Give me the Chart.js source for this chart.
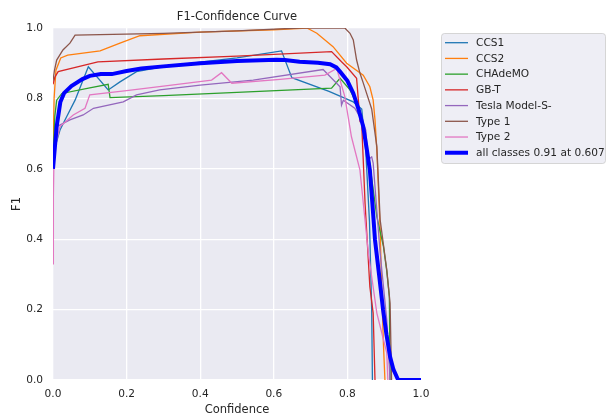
<!DOCTYPE html>
<html>
<head>
<meta charset="utf-8">
<script src="https://cdn.jsdelivr.net/npm/chart.js@4.4.1/dist/chart.umd.min.js"></script>
<style>
  html, body { margin: 0; padding: 0; background: #ffffff; }
  #wrap { width: 607px; height: 417px; }
</style>
</head>
<body>
<div id="wrap"><canvas id="c" width="607" height="417"></canvas></div>
<script>
// ---- data ----
const seriesNames = ['CCS1', 'CCS2', 'CHAdeMO', 'GB-T', 'Tesla Model-S-', 'Type 1', 'Type 2'];
const allLabel = 'all classes 0.91 at 0.607';
const titleText = 'F1-Confidence Curve';
const xLabel = 'Confidence';
const yLabel = 'F1';
const tickValues = [0, 0.2, 0.4, 0.6, 0.8, 1.0];

const ccs1X = [0, 0.005, 0.019, 0.037, 0.06, 0.096, 0.15, 0.182, 0.227, 0.3, 0.4, 0.5, 0.621, 0.649, 0.75, 0.816, 0.839, 0.85, 0.86, 0.866, 0.868];
const ccs1Y = [0.60, 0.66, 0.71, 0.748, 0.795, 0.89, 0.824, 0.847, 0.876, 0.89, 0.903, 0.915, 0.935, 0.859, 0.82, 0.79, 0.77, 0.65, 0.45, 0.2, 0];

const ccs2X = [0, 0.003, 0.008, 0.021, 0.04, 0.128, 0.182, 0.236, 0.4, 0.6, 0.69, 0.717, 0.761, 0.798, 0.843, 0.861, 0.87, 0.875, 0.88, 0.889, 0.893, 0.898, 0.902];
const ccs2Y = [0.65, 0.80, 0.88, 0.915, 0.923, 0.935, 0.957, 0.978, 0.988, 0.995, 1.0, 0.985, 0.947, 0.9, 0.866, 0.833, 0.795, 0.739, 0.653, 0.426, 0.265, 0.1, 0];

const chademoX = [0, 0.005, 0.01, 0.024, 0.1, 0.15, 0.155, 0.3, 0.5, 0.757, 0.78, 0.807, 0.834, 0.86, 0.88, 0.898, 0.907, 0.914, 0.916];
const chademoY = [0.62, 0.75, 0.795, 0.814, 0.83, 0.84, 0.802, 0.808, 0.817, 0.829, 0.857, 0.824, 0.767, 0.62, 0.464, 0.379, 0.31, 0.237, 0];

const gbtX = [0, 0.005, 0.014, 0.122, 0.3, 0.5, 0.757, 0.784, 0.798, 0.825, 0.834, 0.838, 0.848, 0.861, 0.87, 0.875];
const gbtY = [0.84, 0.86, 0.876, 0.904, 0.912, 0.92, 0.933, 0.904, 0.89, 0.857, 0.739, 0.75, 0.502, 0.265, 0.19, 0];

const teslaX = [0, 0.005, 0.01, 0.046, 0.082, 0.11, 0.191, 0.227, 0.29, 0.4, 0.544, 0.734, 0.78, 0.784, 0.789, 0.82, 0.839, 0.85, 0.856, 0.866, 0.87, 0.889, 0.907, 0.916];
const teslaY = [0.60, 0.68, 0.72, 0.739, 0.753, 0.772, 0.79, 0.81, 0.824, 0.838, 0.852, 0.882, 0.833, 0.781, 0.795, 0.772, 0.739, 0.71, 0.625, 0.634, 0.616, 0.36, 0.17, 0];

const type1X = [0, 0.004, 0.01, 0.027, 0.046, 0.06, 0.3, 0.5, 0.67, 0.793, 0.807, 0.816, 0.825, 0.834, 0.843, 0.852, 0.866, 0.88, 0.889, 0.907, 0.916, 0.92];
const type1Y = [0.85, 0.88, 0.909, 0.9375, 0.957, 0.98, 0.985, 0.992, 1.0, 1.0, 0.985, 0.966, 0.909, 0.872, 0.844, 0.815, 0.77, 0.663, 0.455, 0.3125, 0.218, 0];

const type2X = [0, 0.001, 0.003, 0.019, 0.055, 0.087, 0.1, 0.2, 0.3, 0.431, 0.458, 0.486, 0.617, 0.739, 0.771, 0.793, 0.811, 0.834, 0.857, 0.88, 0.907, 0.91];
const type2Y = [0.33, 0.52, 0.65, 0.72, 0.753, 0.772, 0.81, 0.822, 0.835, 0.852, 0.873, 0.843, 0.854, 0.866, 0.885, 0.805, 0.691, 0.597, 0.36, 0.19, 0.077, 0];

const allX = [0, 0.005, 0.01, 0.02, 0.03, 0.05, 0.08, 0.10, 0.13, 0.16, 0.2, 0.24, 0.3, 0.4, 0.5, 0.607, 0.63, 0.67, 0.72, 0.753, 0.77, 0.78, 0.80, 0.816, 0.83, 0.843, 0.852, 0.861, 0.868, 0.875, 0.886, 0.897, 0.906, 0.916, 0.925, 0.938, 1.0];
const allY = [0.60, 0.66, 0.72, 0.79, 0.815, 0.835, 0.855, 0.864, 0.869, 0.869, 0.878, 0.885, 0.891, 0.90, 0.906, 0.91, 0.909, 0.904, 0.901, 0.897, 0.888, 0.876, 0.85, 0.815, 0.77, 0.72, 0.66, 0.597, 0.50, 0.398, 0.30, 0.199, 0.13, 0.066, 0.03, 0, 0];

// ---- styles ----
const seriesX = [ccs1X, ccs2X, chademoX, gbtX, teslaX, type1X, type2X];
const seriesY = [ccs1Y, ccs2Y, chademoY, gbtY, teslaY, type1Y, type2Y];
const colors = ['#1f77b4', '#ff7f0e', '#2ca02c', '#d62728', '#9467bd', '#8c564b', '#e377c2'];
const FONT = 'DejaVu Sans';
const TXT = '#262626';

function pts(xs, ys) { return xs.map((x, i) => ({ x: x, y: ys[i] })); }

const datasets = seriesNames.map((name, i) => ({
  label: name,
  data: pts(seriesX[i], seriesY[i]),
  borderColor: colors[i],
  backgroundColor: colors[i],
  borderWidth: 1.3,
  pointRadius: 0,
  tension: 0,
  fill: false,
  order: seriesNames.length - i
}));
datasets.push({
  label: allLabel,
  data: pts(allX, allY),
  borderColor: '#0000ff',
  backgroundColor: '#0000ff',
  borderWidth: 4,
  pointRadius: 0,
  tension: 0,
  fill: false,
  order: 0
});

const bgPlugin = {
  id: 'bg',
  beforeDraw(chart) {
    const { ctx, chartArea: a } = chart;
    ctx.save();
    ctx.fillStyle = '#ffffff';
    ctx.fillRect(0, 0, chart.width, chart.height);
    ctx.fillStyle = '#EAEAF2';
    ctx.fillRect(a.left, a.top, a.right - a.left, a.bottom - a.top);
    ctx.restore();
  }
};

function roundRect(ctx, x, y, w, h, r) {
  ctx.beginPath();
  ctx.moveTo(x + r, y);
  ctx.lineTo(x + w - r, y);
  ctx.quadraticCurveTo(x + w, y, x + w, y + r);
  ctx.lineTo(x + w, y + h - r);
  ctx.quadraticCurveTo(x + w, y + h, x + w - r, y + h);
  ctx.lineTo(x + r, y + h);
  ctx.quadraticCurveTo(x, y + h, x, y + h - r);
  ctx.lineTo(x, y + r);
  ctx.quadraticCurveTo(x, y, x + r, y);
  ctx.closePath();
}

const legendPlugin = {
  id: 'boxLegend',
  afterDraw(chart) {
    const ctx = chart.ctx;
    const ds = chart.data.datasets;
    const x0 = 441.5, y0 = 33.5, w = 164, h = 130;
    ctx.save();
    roundRect(ctx, x0, y0, w, h, 3);
    ctx.fillStyle = 'rgba(234,234,242,0.8)';
    ctx.fill();
    ctx.strokeStyle = 'rgba(204,204,204,0.8)';
    ctx.lineWidth = 1;
    ctx.stroke();
    ctx.font = '10.6px "' + FONT + '"';
    ctx.textBaseline = 'middle';
    ctx.textAlign = 'left';
    ds.forEach((d, i) => {
      const y = 42.7 + i * 15.72;
      ctx.beginPath();
      ctx.strokeStyle = d.borderColor;
      ctx.lineWidth = d.borderWidth;
      ctx.moveTo(445, y);
      ctx.lineTo(468, y);
      ctx.stroke();
      ctx.fillStyle = TXT;
      ctx.fillText(d.label, 476, y + 0.5);
    });
    ctx.restore();
  }
};

new Chart(document.getElementById('c'), {
  type: 'line',
  data: { datasets: datasets },
  options: {
    responsive: false,
    animation: false,
    layout: { padding: { left: 0, right: 186, top: 0, bottom: 0 } },
    plugins: {
      legend: { display: false },
      tooltip: { enabled: false },
      title: {
        display: true,
        text: titleText,
        fullSize: false,
        color: TXT,
        font: { family: FONT, size: 11.5, weight: 'normal', lineHeight: 1.2 },
        padding: { top: 10, bottom: 4.2 }
      }
    },
    scales: {
      x: {
        type: 'linear',
        min: 0, max: 1,
        afterBuildTicks(s) { s.ticks = tickValues.map(v => ({ value: v })); },
        afterFit(s) { s.height = 37; },
        grid: { color: '#ffffff', lineWidth: 1.3, drawTicks: false },
        border: { display: false },
        ticks: {
          color: TXT, padding: 8,
          font: { family: FONT, size: 10.6 },
          callback: v => Number(v).toFixed(1),
          maxRotation: 0
        },
        title: {
          display: true, text: xLabel, color: TXT,
          font: { family: FONT, size: 11.5, lineHeight: 1.2 },
          padding: { top: 0, bottom: 0 }
        }
      },
      y: {
        type: 'linear',
        min: 0, max: 1,
        afterBuildTicks(s) { s.ticks = tickValues.map(v => ({ value: v })); },
        afterFit(s) { s.width = 53; },
        grid: { color: '#ffffff', lineWidth: 1.3, drawTicks: false },
        border: { display: false },
        ticks: {
          color: TXT, padding: 10,
          font: { family: FONT, size: 10.6 },
          callback: v => Number(v).toFixed(1)
        },
        title: {
          display: true, text: yLabel, color: TXT,
          font: { family: FONT, size: 11.5, lineHeight: 1.2 },
          padding: { top: 10, bottom: 0 }
        }
      }
    }
  },
  plugins: [bgPlugin, legendPlugin]
});
</script>
</body>
</html>
